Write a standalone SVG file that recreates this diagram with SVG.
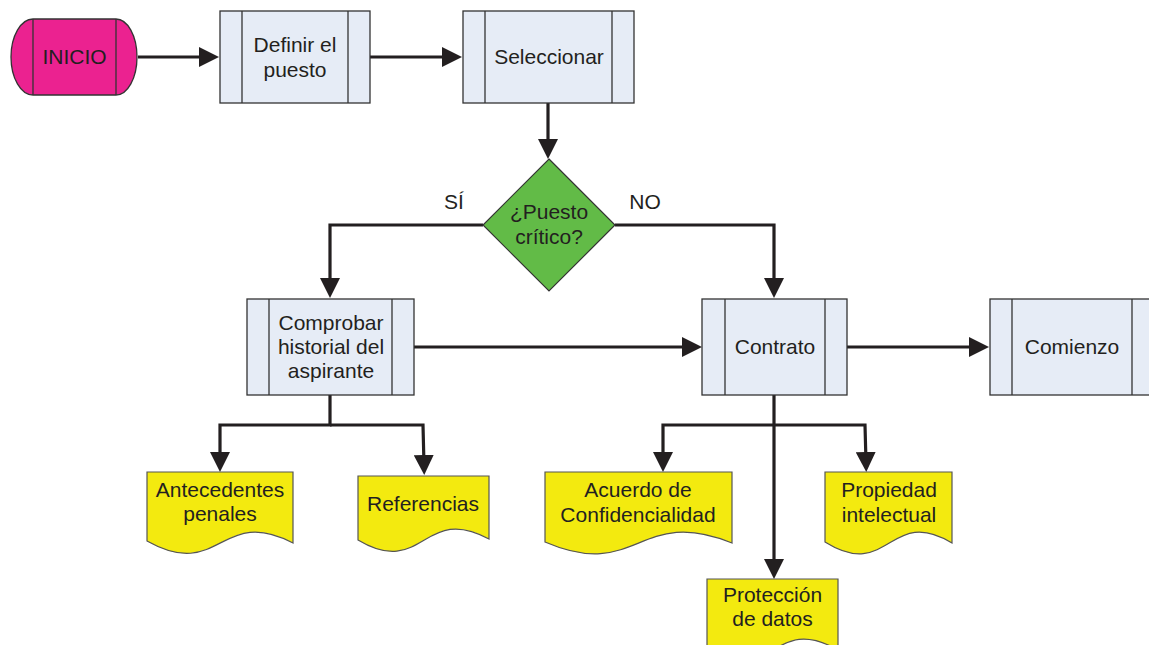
<svg xmlns="http://www.w3.org/2000/svg" width="1149" height="645" viewBox="0 0 1149 645">
  <defs>
    <marker id="arrow" viewBox="0 0 20 20" refX="10" refY="10" markerWidth="20" markerHeight="20" markerUnits="userSpaceOnUse" orient="auto">
      <path d="M0,0 L20,10 L0,20 Z" fill="#231f20"/>
    </marker>
    <style>
      .conn { fill: none; stroke: #231f20; stroke-width: 3.2; stroke-linejoin: miter; }
      .proc { fill: #e6ecf6; stroke: #333; stroke-width: 1.3; }
      .bar { stroke: #333; stroke-width: 1.3; }
      .start { fill: #eb2290; stroke: #333; stroke-width: 1.3; }
      .dec { fill: #62bb47; stroke: #333; stroke-width: 1.2; }
      .doc { fill: #f3ea0f; stroke: #555; stroke-width: 1.2; }
      text { font-family: "Liberation Sans", Arial, sans-serif; font-size: 21px; fill: #231f20; text-anchor: middle; }
    </style>
  </defs>

  <rect width="1149" height="645" fill="#ffffff"/>

  <!-- connectors -->
  <g id="connectors">
    <path class="conn" d="M138,57 H209" marker-end="url(#arrow)"/>
    <path class="conn" d="M370,57 H452" marker-end="url(#arrow)"/>
    <path class="conn" d="M548,102 V149" marker-end="url(#arrow)"/>
    <path class="conn" d="M483,225 H330 V288" marker-end="url(#arrow)"/>
    <path class="conn" d="M615,225 H774 V288" marker-end="url(#arrow)"/>
    <path class="conn" d="M414,347 H692" marker-end="url(#arrow)"/>
    <path class="conn" d="M847,347 H979" marker-end="url(#arrow)"/>
    <path class="conn" d="M330,395 V425 H220 V462" marker-end="url(#arrow)"/>
    <path class="conn" d="M330,425 H423 L424,465" marker-end="url(#arrow)"/>
    <path class="conn" d="M774,395 V569" marker-end="url(#arrow)"/>
    <path class="conn" d="M774,425 H663 V462" marker-end="url(#arrow)"/>
    <path class="conn" d="M774,425 H865 L866,462" marker-end="url(#arrow)"/>
    <text x="454" y="209">SÍ</text>
    <text x="645" y="209">NO</text>
  </g>

  <!-- start terminator -->
  <g id="inicio">
    <path class="start" d="M33,19 H116 A21 38 0 0 1 116,95 H33 A22 38 0 0 1 33,19 Z"/>
    <line class="bar" x1="33" y1="19" x2="33" y2="95"/>
    <line class="bar" x1="116" y1="19" x2="116" y2="95"/>
    <text x="74.5" y="64">INICIO</text>
  </g>

  <!-- predefined processes -->
  <g id="definir">
    <rect class="proc" x="220" y="11" width="150" height="92"/>
    <line class="bar" x1="242" y1="11" x2="242" y2="103"/>
    <line class="bar" x1="348" y1="11" x2="348" y2="103"/>
    <text x="295" y="52">Definir el</text>
    <text x="295" y="77">puesto</text>
  </g>

  <g id="seleccionar">
    <rect class="proc" x="463" y="11" width="171" height="92"/>
    <line class="bar" x1="485" y1="11" x2="485" y2="103"/>
    <line class="bar" x1="612" y1="11" x2="612" y2="103"/>
    <text x="549" y="64">Seleccionar</text>
  </g>

  <g id="puesto-critico">
    <path class="dec" d="M549,159 L615,225 L549,291 L483,225 Z"/>
    <text x="549" y="219">¿Puesto</text>
    <text x="549" y="244">crítico?</text>
  </g>

  <g id="comprobar">
    <rect class="proc" x="247" y="299" width="167" height="96"/>
    <line class="bar" x1="269" y1="299" x2="269" y2="395"/>
    <line class="bar" x1="392" y1="299" x2="392" y2="395"/>
    <text x="331" y="330">Comprobar</text>
    <text x="331" y="354">historial del</text>
    <text x="331" y="378">aspirante</text>
  </g>

  <g id="contrato">
    <rect class="proc" x="702" y="299" width="145" height="96"/>
    <line class="bar" x1="725" y1="299" x2="725" y2="395"/>
    <line class="bar" x1="825" y1="299" x2="825" y2="395"/>
    <text x="775" y="354">Contrato</text>
  </g>

  <g id="comienzo">
    <rect class="proc" x="990" y="299" width="166" height="96"/>
    <line class="bar" x1="1012" y1="299" x2="1012" y2="395"/>
    <line class="bar" x1="1132" y1="299" x2="1132" y2="395"/>
    <text x="1072" y="354">Comienzo</text>
  </g>

  <!-- documents -->
  <g id="antecedentes">
    <path class="doc" d="M147,472 H293 V543 C220,505 220,582 147,541 Z"/>
    <text x="220" y="497">Antecedentes</text>
    <text x="220" y="521">penales</text>
  </g>

  <g id="referencias">
    <path class="doc" d="M358,476 H489 V539 C423,503 423,579 358,540 Z"/>
    <text x="423" y="511">Referencias</text>
  </g>

  <g id="acuerdo">
    <path class="doc" d="M545,472 H732 V543 C638,505 638,582 545,542 Z"/>
    <text x="638" y="497">Acuerdo de</text>
    <text x="638" y="522">Confidencialidad</text>
  </g>

  <g id="propiedad">
    <path class="doc" d="M825,472 H952 V543 C889,505 889,582 825,542 Z"/>
    <text x="889" y="497">Propiedad</text>
    <text x="889" y="522">intelectual</text>
  </g>

  <g id="proteccion">
    <path class="doc" d="M707,579 H838 V650 C772,612 772,689 707,649 Z"/>
    <text x="772.5" y="602">Protección</text>
    <text x="772.5" y="626">de datos</text>
  </g>
</svg>
